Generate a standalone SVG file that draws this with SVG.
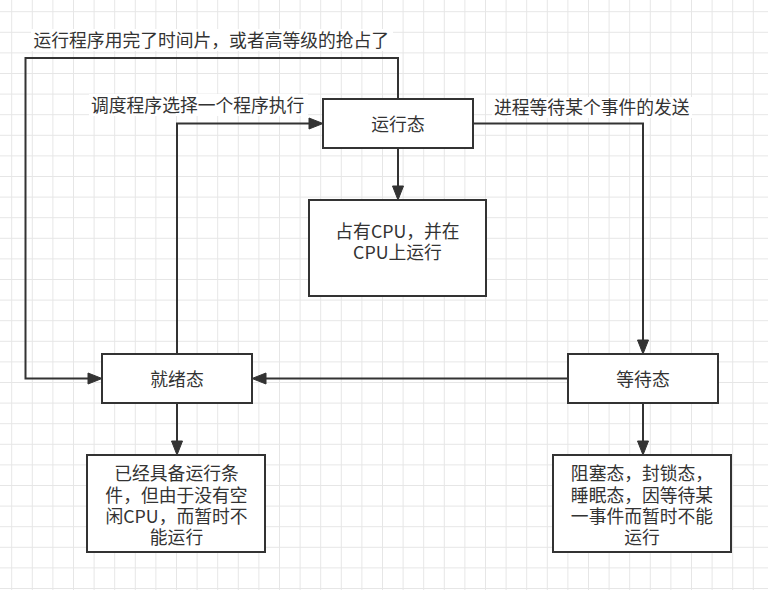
<svg xmlns="http://www.w3.org/2000/svg" width="768" height="590" viewBox="0 0 768 590">
  <defs>
    <pattern id="grid" patternUnits="userSpaceOnUse" x="11.2" y="11.2" width="20.6" height="20.6">
      <path d="M0.5,0 V20.6 M0,0.5 H20.6" stroke="#e6e6e6" stroke-width="1" fill="none"/>
    </pattern>
    <marker id="arrow" markerUnits="userSpaceOnUse" markerWidth="16" markerHeight="14" refX="0" refY="0" viewBox="0 -7 16 14" orient="auto" overflow="visible">
      <path d="M0,-5.5 L14,0 L0,5.5 Z" fill="#333333" stroke="#333333" stroke-width="1" stroke-linejoin="miter"/>
    </marker>
    <style>
      .box { fill: #ffffff; stroke: #333333; stroke-width: 2; }
      .t { font-family: "Noto Sans CJK SC", "Noto Sans", sans-serif; font-size: 17.8px; fill: #333333; text-anchor: middle; }
      .lbl { font-family: "Noto Sans CJK SC", "Noto Sans", sans-serif; font-size: 17.8px; fill: #333333; }
      .edge { fill: none; stroke: #333333; stroke-width: 2; marker-end: url(#arrow); }
      .lblbg { fill: #ffffff; }
    </style>
  </defs>

  <rect x="0" y="0" width="768" height="590" fill="#ffffff"/>
  <rect x="0" y="0" width="768" height="590" fill="url(#grid)"/>

  <g id="connectors">
    <path class="edge" d="M398,99 V58 H25.5 V378.5 H88"/>
    <path class="edge" d="M177,354 V123.5 H309"/>
    <path class="edge" d="M473,123.5 H643 V340"/>
    <path class="edge" d="M568,378.5 H266"/>
    <path class="edge" d="M398,148 V186"/>
    <path class="edge" d="M177,403 V441"/>
    <path class="edge" d="M643,403 V441"/>
  </g>

  <g id="label-timeslice">
    <rect class="lblbg" x="31" y="29" width="362" height="22"/>
    <text class="lbl" x="33.5" y="46.8">运行程序用完了时间片，或者高等级的抢占了</text>
  </g>
  <g id="label-schedule">
    <rect class="lblbg" x="89" y="94" width="219" height="22"/>
    <text class="lbl" x="91" y="112">调度程序选择一个程序执行</text>
  </g>
  <g id="label-wait">
    <rect class="lblbg" x="492" y="97" width="200" height="21"/>
    <text class="lbl" x="494" y="114">进程等待某个事件的发送</text>
  </g>

  <g id="node-running">
    <rect class="box" x="323" y="99" width="150" height="49"/>
    <text class="t" x="398" y="130.5">运行态</text>
  </g>
  <g id="node-running-desc">
    <rect class="box" x="309" y="200" width="177" height="96"/>
    <text class="t" x="397.5" y="238.1">占有CPU，并在</text>
    <text class="t" x="397.5" y="259.4">CPU上运行</text>
  </g>
  <g id="node-ready">
    <rect class="box" x="102" y="354" width="150" height="49"/>
    <text class="t" x="177" y="386">就绪态</text>
  </g>
  <g id="node-ready-desc">
    <rect class="box" x="87" y="455" width="178" height="97"/>
    <text class="t" x="176.5" y="480.2">已经具备运行条</text>
    <text class="t" x="176.5" y="501.5">件，但由于没有空</text>
    <text class="t" x="176.5" y="522.8">闲CPU，而暂时不</text>
    <text class="t" x="176.5" y="544.1">能运行</text>
  </g>
  <g id="node-waiting">
    <rect class="box" x="568" y="354" width="150" height="49"/>
    <text class="t" x="643" y="386">等待态</text>
  </g>
  <g id="node-waiting-desc">
    <rect class="box" x="553" y="455" width="178" height="97"/>
    <text class="t" x="642" y="480.2">阻塞态，封锁态，</text>
    <text class="t" x="642" y="501.5">睡眠态，因等待某</text>
    <text class="t" x="642" y="522.8">一事件而暂时不能</text>
    <text class="t" x="642" y="544.1">运行</text>
  </g>
</svg>
